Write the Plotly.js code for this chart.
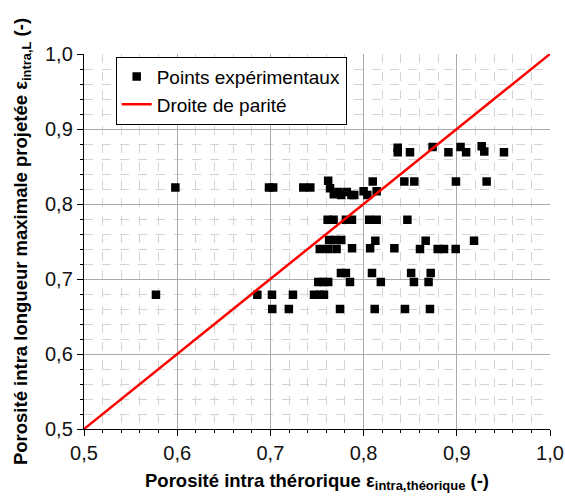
<!DOCTYPE html>
<html>
<head>
<meta charset="utf-8">
<script src="https://cdn.plot.ly/plotly-3.0.1.min.js"></script>
<style>
html,body{margin:0;padding:0;background:#fff;}
#chart{width:565px;height:499px;}
</style>
</head>
<body>
<div id="chart"></div>
<script>
// Experimental points: theoretical intra porosity (x) vs projected max-length intra porosity (y)
const expX = [
  0.5772, 0.686, 0.7017, 0.7242, 0.7468, 0.7532, 0.7575,
  0.702, 0.7198, 0.7747, 0.8119, 0.8444, 0.8712,
  0.7514, 0.7568, 0.762, 0.7854, 0.8185, 0.854, 0.8697,
  0.7757, 0.781, 0.809, 0.851, 0.872,
  0.753, 0.762, 0.771, 0.7876, 0.807, 0.833, 0.8605, 0.8795, 0.8863, 0.8988,
  0.763, 0.769, 0.776, 0.8126, 0.8666, 0.9185,
  0.7614, 0.7678, 0.781, 0.7875, 0.806, 0.814, 0.847,
  0.598, 0.6985, 0.703, 0.7353, 0.7428,
  0.764, 0.768, 0.773, 0.776, 0.782, 0.787, 0.790, 0.800, 0.804, 0.814,
  0.762, 0.8098, 0.8437, 0.8544, 0.8991, 0.9320,
  0.8366, 0.8366, 0.8498, 0.874, 0.891, 0.904, 0.910, 0.9267, 0.9295, 0.9506
];
const expY = [
  0.679, 0.679, 0.679, 0.679, 0.679, 0.679, 0.679,
  0.660, 0.660, 0.660, 0.660, 0.660, 0.660,
  0.696, 0.696, 0.696, 0.696, 0.696, 0.696, 0.696,
  0.708, 0.708, 0.708, 0.708, 0.708,
  0.740, 0.740, 0.740, 0.741, 0.741, 0.741, 0.740, 0.740, 0.740, 0.740,
  0.752, 0.752, 0.752, 0.751, 0.751, 0.751,
  0.779, 0.779, 0.779, 0.779, 0.779, 0.779, 0.779,
  0.822, 0.822, 0.822, 0.822, 0.822,
  0.821, 0.813, 0.816, 0.812, 0.816, 0.812, 0.812, 0.817, 0.812, 0.817,
  0.831, 0.830, 0.830, 0.830, 0.830, 0.830,
  0.875, 0.869, 0.869, 0.876, 0.869, 0.876, 0.869, 0.877, 0.870, 0.869
];
// Parity line
const parX = [0.5, 1.0];
const parY = [0.5, 1.0];

const xTickVals = [0.5, 0.6, 0.7, 0.8, 0.9, 1.0];
const yTickVals = [0.5, 0.6, 0.7, 0.8, 0.9, 1.0];

const FONT = 'Liberation Sans, Arial, sans-serif';

const traces = [
  {
    x: expX, y: expY, type: 'scatter', mode: 'markers',
    name: 'Points expérimentaux',
    marker: {symbol: 'square', size: 8.5, color: '#000000', line: {width: 0}},
    cliponaxis: false
  },
  {
    x: parX, y: parY, type: 'scatter', mode: 'lines',
    name: 'Droite de parité',
    line: {color: '#ff0000', width: 2.5}
  }
];

const axisCommon = {
  range: [0.5, 1.0],
  tickformat: '.1f',
  showline: true, linecolor: '#000', linewidth: 1.2,
  ticks: 'outside', ticklen: 6, tickwidth: 1, tickcolor: '#000',
  showgrid: true, gridcolor: '#aaaaaa', gridwidth: 1,
  zeroline: false,
  tickfont: {family: FONT, size: 20, color: '#111'},
  minor: {
    dtick: 0.02, showgrid: true, gridcolor: '#d4d4d4', griddash: 'dash', gridwidth: 1,
    ticks: 'outside', ticklen: 3, tickcolor: '#000', tickwidth: 1
  }
};

const layout = {
  width: 565, height: 499,
  margin: {l: 84, r: 15, t: 54, b: 70},
  paper_bgcolor: '#fff', plot_bgcolor: '#fff',
  separators: ', ',
  showlegend: true,
  font: {family: FONT, color: '#000'},
  xaxis: Object.assign({}, axisCommon, {
    tickvals: xTickVals,
    title: {text: 'Porosité intra thérorique ε<sub>intra,théorique</sub> (-)',
            font: {size: 18.5, weight: 'bold', family: FONT}, standoff: 10}
  }),
  yaxis: Object.assign({}, axisCommon, {
    tickvals: yTickVals,
    title: {text: 'Porosité intra longueur maximale projetée ε<sub>intra,L</sub> (-)',
            font: {size: 18.5, weight: 'bold', family: FONT}, standoff: 12}
  }),
  legend: {
    x: 0.068, y: 0.993, xanchor: 'left', yanchor: 'top',
    bgcolor: '#fff', bordercolor: '#000', borderwidth: 1,
    font: {size: 19, family: FONT, color: '#000'},
    tracegroupgap: 0
  }
};

Plotly.newPlot('chart', traces, layout, {displayModeBar: false, staticPlot: true});
</script>
</body>
</html>
